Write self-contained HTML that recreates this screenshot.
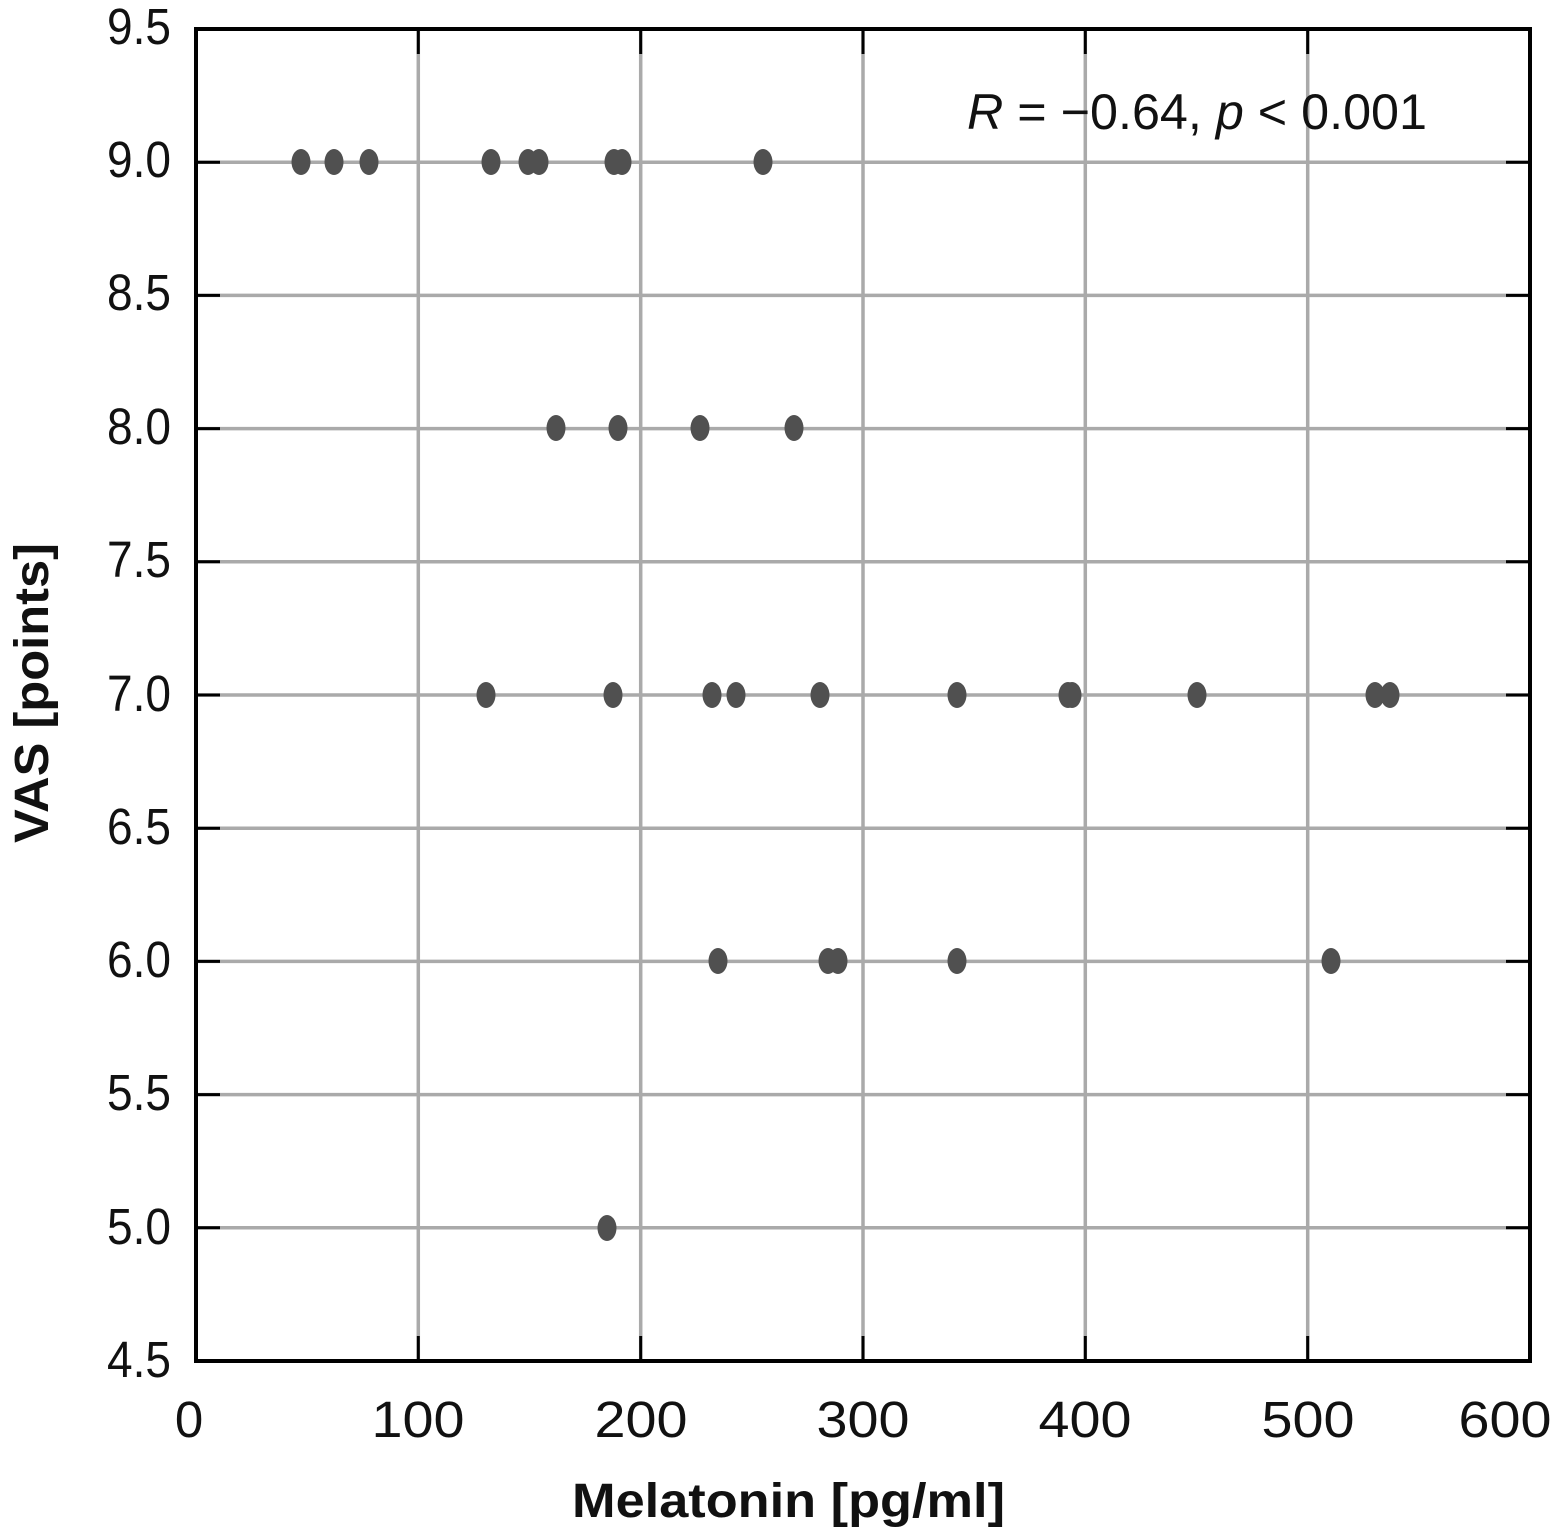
<!DOCTYPE html>
<html><head><meta charset="utf-8"><style>html,body{margin:0;padding:0;background:#fff}svg{display:block}</style></head>
<body>
<svg width="1565" height="1533" viewBox="0 0 1565 1533" xmlns="http://www.w3.org/2000/svg" font-family="Liberation Sans, sans-serif">
<rect width="1565" height="1533" fill="#fff"/>
<g stroke="#aaaaaa" stroke-width="3.5">
<line x1="418.3" y1="29" x2="418.3" y2="1361"/>
<line x1="640.7" y1="29" x2="640.7" y2="1361"/>
<line x1="863" y1="29" x2="863" y2="1361"/>
<line x1="1085.3" y1="29" x2="1085.3" y2="1361"/>
<line x1="1307.7" y1="29" x2="1307.7" y2="1361"/>
<line x1="196" y1="162.2" x2="1530" y2="162.2"/>
<line x1="196" y1="295.4" x2="1530" y2="295.4"/>
<line x1="196" y1="428.6" x2="1530" y2="428.6"/>
<line x1="196" y1="561.8" x2="1530" y2="561.8"/>
<line x1="196" y1="695" x2="1530" y2="695"/>
<line x1="196" y1="828.2" x2="1530" y2="828.2"/>
<line x1="196" y1="961.4" x2="1530" y2="961.4"/>
<line x1="196" y1="1094.6" x2="1530" y2="1094.6"/>
<line x1="196" y1="1227.8" x2="1530" y2="1227.8"/>
</g>
<g stroke="#000" stroke-width="3">
<path d="M418.3 29v25M640.7 29v25M863 29v25M1085.3 29v25M1307.7 29v25"/>
<path d="M418.3 1361v-25M640.7 1361v-25M863 1361v-25M1085.3 1361v-25M1307.7 1361v-25"/>
<path d="M196 162.2h24M196 295.4h24M196 428.6h24M196 561.8h24M196 695h24M196 828.2h24M196 961.4h24M196 1094.6h24M196 1227.8h24"/>
<path d="M1530 162.2h-24M1530 295.4h-24M1530 428.6h-24M1530 561.8h-24M1530 695h-24M1530 828.2h-24M1530 961.4h-24M1530 1094.6h-24M1530 1227.8h-24"/>
<rect x="196" y="29" width="1334" height="1332" fill="none" stroke-width="4"/>
</g>
<g fill="#505050">
<ellipse cx="301" cy="162" rx="9.5" ry="13"/><ellipse cx="334" cy="162" rx="9.5" ry="13"/><ellipse cx="369" cy="162" rx="9.5" ry="13"/><ellipse cx="491" cy="162" rx="9.5" ry="13"/><ellipse cx="528" cy="162" rx="9.5" ry="13"/><ellipse cx="539" cy="162" rx="9.5" ry="13"/><ellipse cx="614" cy="162" rx="9.5" ry="13"/><ellipse cx="622" cy="162" rx="9.5" ry="13"/><ellipse cx="763" cy="162" rx="9.5" ry="13"/>
<ellipse cx="556" cy="428" rx="9.5" ry="13"/><ellipse cx="618" cy="428" rx="9.5" ry="13"/><ellipse cx="700" cy="428" rx="9.5" ry="13"/><ellipse cx="794" cy="428" rx="9.5" ry="13"/>
<ellipse cx="486" cy="695" rx="9.5" ry="13"/><ellipse cx="613" cy="695" rx="9.5" ry="13"/><ellipse cx="712" cy="695" rx="9.5" ry="13"/><ellipse cx="736" cy="695" rx="9.5" ry="13"/><ellipse cx="820" cy="695" rx="9.5" ry="13"/><ellipse cx="957" cy="695" rx="9.5" ry="13"/><ellipse cx="1068" cy="695" rx="9.5" ry="13"/><ellipse cx="1072" cy="695" rx="9.5" ry="13"/><ellipse cx="1197" cy="695" rx="9.5" ry="13"/><ellipse cx="1375" cy="695" rx="9.5" ry="13"/><ellipse cx="1390" cy="695" rx="9.5" ry="13"/>
<ellipse cx="718" cy="961" rx="9.5" ry="13"/><ellipse cx="828" cy="961" rx="9.5" ry="13"/><ellipse cx="838" cy="961" rx="9.5" ry="13"/><ellipse cx="957" cy="961" rx="9.5" ry="13"/><ellipse cx="1331" cy="961" rx="9.5" ry="13"/>
<ellipse cx="607" cy="1228" rx="9.5" ry="13"/>
</g>
<g font-size="51" fill="#111" text-anchor="end">
<text x="171" y="44" textLength="64" lengthAdjust="spacingAndGlyphs">9.5</text><text x="171" y="177" textLength="64" lengthAdjust="spacingAndGlyphs">9.0</text><text x="171" y="310" textLength="64" lengthAdjust="spacingAndGlyphs">8.5</text><text x="171" y="444" textLength="64" lengthAdjust="spacingAndGlyphs">8.0</text><text x="171" y="577" textLength="64" lengthAdjust="spacingAndGlyphs">7.5</text><text x="171" y="711" textLength="64" lengthAdjust="spacingAndGlyphs">7.0</text><text x="171" y="844" textLength="64" lengthAdjust="spacingAndGlyphs">6.5</text><text x="171" y="977" textLength="64" lengthAdjust="spacingAndGlyphs">6.0</text><text x="171" y="1110" textLength="64" lengthAdjust="spacingAndGlyphs">5.5</text><text x="171" y="1244" textLength="64" lengthAdjust="spacingAndGlyphs">5.0</text><text x="171" y="1377" textLength="64" lengthAdjust="spacingAndGlyphs">4.5</text>
</g>
<g font-size="51" fill="#111" text-anchor="middle">
<text x="189" y="1437">0</text><text x="418" y="1437" textLength="93" lengthAdjust="spacingAndGlyphs">100</text><text x="641" y="1437" textLength="93" lengthAdjust="spacingAndGlyphs">200</text><text x="863" y="1437" textLength="93" lengthAdjust="spacingAndGlyphs">300</text><text x="1085" y="1437" textLength="93" lengthAdjust="spacingAndGlyphs">400</text><text x="1308" y="1437" textLength="93" lengthAdjust="spacingAndGlyphs">500</text><text x="1505" y="1437" textLength="93" lengthAdjust="spacingAndGlyphs">600</text>
</g>
<text x="967" y="129" font-size="50" fill="#111" textLength="460" lengthAdjust="spacingAndGlyphs"><tspan font-style="italic">R</tspan> = −0.64, <tspan font-style="italic">p</tspan> &lt; 0.001</text>
<text x="572" y="1517" font-size="48" font-weight="bold" fill="#111" textLength="433" lengthAdjust="spacingAndGlyphs">Melatonin [pg/ml]</text>
<text transform="translate(48,843) rotate(-90)" font-size="48" font-weight="bold" fill="#111" textLength="300" lengthAdjust="spacingAndGlyphs">VAS [points]</text>
</svg>
</body></html>
